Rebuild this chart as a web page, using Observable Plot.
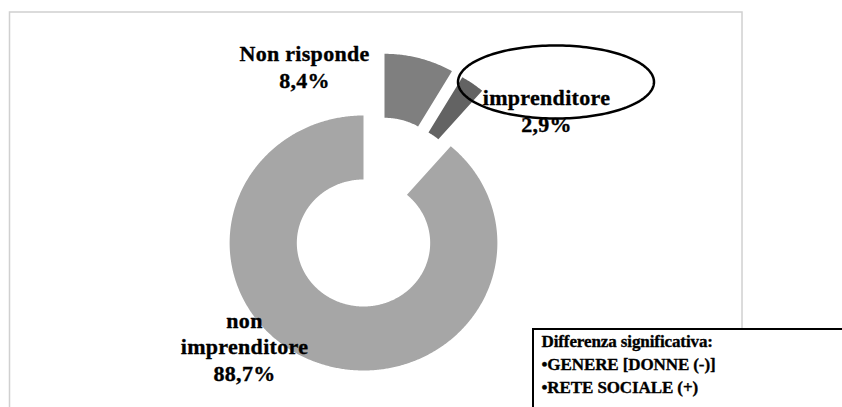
<!DOCTYPE html>
<html><head><meta charset="utf-8">
<script src="https://cdn.jsdelivr.net/npm/d3@7"></script>
<script src="https://cdn.jsdelivr.net/npm/@observablehq/plot@0.6"></script>
<style>
body{margin:0;background:#fff}
svg text{font-family:"Liberation Serif","Times New Roman",serif;font-weight:bold}
</style>
</head><body><div id="chart"></div>
<script>
// ---- data ----
const categories = ["Non risponde", "imprenditore", "non imprenditore"];
const values = [8.4, 2.9, 88.7];
const valueLabels = ["8,4%", "2,9%", "88,7%"];
const colors = ["#7f7f7f", "#636363", "#a6a6a6"];
const noteLines = ["Differenza significativa:", "\u2022GENERE [DONNE (-)]", "\u2022RETE SOCIALE (+)"];

// ---- layout ----
const W = 842, H = 407;
const layout = {
  centers: {"Non risponde": [384, 180.8], "imprenditore": [394.4, 186.9], "non imprenditore": [363, 242.5]},
  rOuter: 127.5, rInner: 63.5, kx: 1.05,
  labels: {
    "Non risponde": {x: 304, y: 87, text: "Non risponde\n"},
    "imprenditore": {x: 546, y: 131, text: "imprenditore\n"},
    "non imprenditore": {x: 244, y: 380, text: "non\nimprenditore\n"}
  },
  ellipse: {cx: 555.5, cy: 81.5, rx: 98, ry: 36.5},
  frame: {x1: 9.5, y1: 12, x2: 742, y2: 440},
  box: {x1: 533, y1: 329, x2: 860, y2: 440, tx: 541},
  noteY: [346, 369, 392]
};

const total = d3.sum(values);
let acc = 0;
const slices = categories.map((name, i) => {
  const a0 = acc / total * 2 * Math.PI;
  acc += values[i];
  const a1 = acc / total * 2 * Math.PI;
  return {name, a0, a1, label: valueLabels[i]};
});

const arcPts = slices.flatMap(s => {
  const [cx, cy] = layout.centers[s.name];
  const n = Math.max(6, Math.ceil((s.a1 - s.a0) / (Math.PI / 360)));
  const pts = [];
  for (let j = 0; j <= n; j++) {
    const a = s.a0 + (s.a1 - s.a0) * j / n;
    pts.push({name: s.name, x: cx + layout.rOuter * layout.kx * Math.sin(a), y: cy - layout.rOuter * Math.cos(a)});
  }
  for (let j = n; j >= 0; j--) {
    const a = s.a0 + (s.a1 - s.a0) * j / n;
    pts.push({name: s.name, x: cx + layout.rInner * layout.kx * Math.sin(a), y: cy - layout.rInner * Math.cos(a)});
  }
  return pts;
});

const labelData = slices.map(s => ({...layout.labels[s.name], text: layout.labels[s.name].text + s.label}));
const noteData = noteLines.map((t, i) => ({text: t, y: layout.noteY[i]}));

const E = layout.ellipse;
const ellipsePts = d3.range(0, 361, 2).map(t => ({x: E.cx + E.rx * Math.cos(t * Math.PI / 180), y: E.cy + E.ry * Math.sin(t * Math.PI / 180)}));

const chart = Plot.plot({
  width: W, height: H, margin: 0,
  x: {domain: [0, W], range: [0, W], axis: null},
  y: {domain: [0, H], range: [0, H], axis: null},
  color: {domain: categories, range: colors},
  marks: [
    Plot.rect([layout.frame], {x1: "x1", x2: "x2", y1: "y1", y2: "y2", fill: "none", stroke: "#d0d0d0", strokeWidth: 1.5}),
    Plot.line(arcPts, {x: "x", y: "y", z: "name", fill: "name", stroke: "none", curve: "linear-closed"}),
    Plot.text(labelData, {x: "x", y: "y", text: "text", lineAnchor: "bottom", lineHeight: 1.2, fontSize: 22, fill: "black", stroke: "black", strokeWidth: 0.35, fontWeight: "bold"}),
    Plot.line(ellipsePts, {x: "x", y: "y", stroke: "black", strokeWidth: 2.5, curve: "linear-closed", fill: "none"}),
    Plot.rect([layout.box], {x1: "x1", x2: "x2", y1: "y1", y2: "y2", fill: "white", stroke: "black", strokeWidth: 2}),
    Plot.text(noteData, {x: layout.box.tx, y: "y", text: "text", textAnchor: "start", lineAnchor: "bottom", fontSize: 17, fill: "black", stroke: "black", strokeWidth: 0.35, fontWeight: "bold"})
  ]
});
chart.querySelectorAll("text").forEach(t => {
  t.style.letterSpacing = noteLines.includes(t.textContent) ? "-0.1px" : "0.3px";
});
document.getElementById("chart").appendChild(chart);
</script>
</body></html>
